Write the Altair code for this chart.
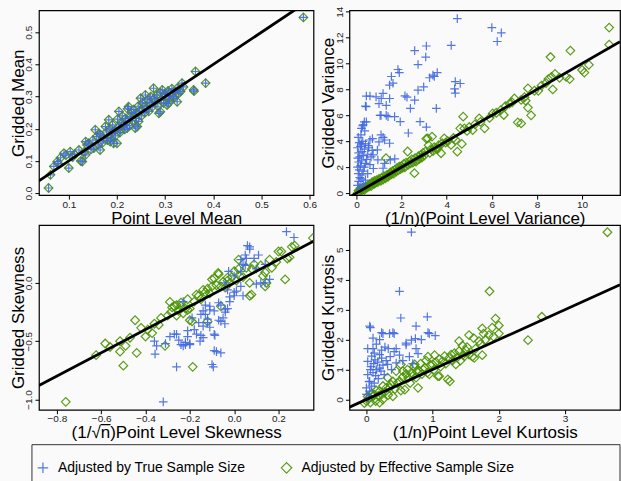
import altair as alt
import pandas as pd

SERIES = ["Adjusted by True Sample Size", "Adjusted by Effective Sample Size"]
BLUE = "#4169E1"
GREEN = "#4A9400"
PLUS = "M-1,0H1M0,-1V1"
FONT = "Liberation Sans"

# Gridded vs point-level mean (identical under both adjustments)
MEAN_PTS = [
    (0.058, 0.016), (0.062, 0.057), (0.069, 0.083), (0.076, 0.098), (0.078, 0.092), (0.083, 0.110),
    (0.090, 0.124), (0.094, 0.118), (0.100, 0.078), (0.103, 0.129), (0.108, 0.112), (0.112, 0.121),
    (0.121, 0.134), (0.125, 0.100), (0.128, 0.098), (0.132, 0.128), (0.135, 0.119), (0.135, 0.160),
    (0.138, 0.150), (0.141, 0.155), (0.146, 0.136), (0.150, 0.165), (0.152, 0.140), (0.155, 0.197),
    (0.158, 0.176), (0.161, 0.150), (0.163, 0.185), (0.165, 0.134), (0.166, 0.181), (0.169, 0.155),
    (0.172, 0.170), (0.176, 0.207), (0.178, 0.190), (0.180, 0.165), (0.183, 0.228), (0.185, 0.200),
    (0.186, 0.160), (0.187, 0.171), (0.189, 0.185), (0.191, 0.212), (0.193, 0.155), (0.195, 0.195),
    (0.197, 0.178), (0.200, 0.155), (0.201, 0.230), (0.203, 0.205), (0.204, 0.254), (0.206, 0.188),
    (0.207, 0.197), (0.209, 0.220), (0.211, 0.240), (0.214, 0.212), (0.216, 0.198), (0.218, 0.232),
    (0.221, 0.223), (0.221, 0.202), (0.222, 0.262), (0.224, 0.269), (0.226, 0.210), (0.228, 0.238),
    (0.230, 0.250), (0.232, 0.225), (0.235, 0.260), (0.238, 0.248), (0.238, 0.202), (0.240, 0.232),
    (0.242, 0.207), (0.244, 0.270), (0.245, 0.223), (0.247, 0.255), (0.249, 0.295), (0.251, 0.240),
    (0.253, 0.280), (0.256, 0.269), (0.258, 0.250), (0.259, 0.305), (0.261, 0.262), (0.264, 0.290),
    (0.266, 0.254), (0.268, 0.282), (0.270, 0.300), (0.273, 0.268), (0.276, 0.326), (0.278, 0.295),
    (0.280, 0.285), (0.283, 0.305), (0.285, 0.270), (0.287, 0.248), (0.290, 0.312), (0.290, 0.253),
    (0.292, 0.290), (0.294, 0.321), (0.297, 0.280), (0.299, 0.308), (0.301, 0.300), (0.304, 0.274),
    (0.306, 0.318), (0.307, 0.279), (0.309, 0.295), (0.311, 0.311), (0.314, 0.325), (0.316, 0.300),
    (0.318, 0.295), (0.321, 0.315), (0.325, 0.326), (0.325, 0.284), (0.328, 0.310), (0.332, 0.316),
    (0.335, 0.342), (0.338, 0.330), (0.359, 0.321), (0.360, 0.317), (0.363, 0.378), (0.384, 0.342),
    (0.587, 0.546),
]

# Gridded variance vs (1/n)(point-level variance)
VAR_TRUE = [
    (0.05, 0.6), (0.10, 0.9), (0.15, 1.2), (0.08, 1.5), (0.20, 1.1), (0.25, 1.4), (0.12, 1.8),
    (0.30, 1.7), (0.05, 2.0), (0.18, 2.1), (0.35, 2.0), (0.10, 2.4), (0.22, 2.5), (0.40, 2.3),
    (0.06, 2.7), (0.15, 2.8), (0.30, 2.9), (0.45, 2.6), (0.10, 3.1), (0.25, 3.2), (0.35, 3.4),
    (0.05, 3.5), (0.18, 3.6), (0.50, 3.0), (0.12, 3.9), (0.28, 4.0), (0.40, 3.8), (0.08, 4.3),
    (0.20, 4.5), (0.55, 3.5), (0.60, 2.2), (0.50, 1.5), (0.65, 2.8), (0.70, 3.3), (0.75, 1.9),
    (0.40, 1.0), (0.30, 0.7), (0.16, 0.4), (0.22, 5.0), (0.37, 4.8), (0.27, 5.2), (0.35, 5.5),
    (0.44, 5.5), (0.30, 5.26), (0.60, 4.1), (0.71, 4.2), (0.53, 3.67), (0.22, 3.8), (0.93, 3.33),
    (0.74, 2.95), (0.95, 2.56), (1.00, 3.95), (1.09, 4.5), (1.18, 4.3), (1.25, 4.1), (1.47, 3.85),
    (1.70, 2.64), (1.50, 2.56), (1.25, 2.3), (1.18, 1.92), (0.44, 7.49), (0.60, 7.49), (0.40, 6.72),
    (0.43, 6.67), (0.87, 7.43), (1.10, 7.3), (1.00, 6.9), (1.18, 7.69), (1.05, 6.0), (1.09, 6.0),
    (1.32, 6.0), (1.32, 6.77), (1.47, 7.3), (1.40, 5.9), (1.69, 5.9), (1.94, 5.51), (2.30, 4.64),
    (2.82, 5.51), (3.10, 5.1), (2.39, 6.54), (2.15, 7.5), (2.24, 7.4), (2.58, 7.18), (2.73, 7.95),
    (2.98, 8.2), (3.54, 6.54), (1.47, 8.33), (1.62, 8.48), (1.55, 9.0), (1.84, 9.54), (1.90, 9.3),
    (2.73, 9.92), (2.58, 11.0), (3.07, 10.5), (3.10, 11.35), (4.20, 11.4), (3.58, 9.3), (3.39, 9.1),
    (3.24, 8.9), (3.45, 9.0), (4.38, 8.6), (4.60, 8.46), (4.35, 8.05), (4.38, 7.72), (4.47, 13.46),
    (6.00, 12.77), (6.42, 12.36), (6.24, 11.7),
]
VAR_EFF = [
    (0.05, 0.0), (0.10, 0.2), (0.15, 0.1), (0.20, 0.3), (0.25, 0.2), (0.30, 0.45), (0.35, 0.25),
    (0.40, 0.5), (0.45, 0.4), (0.50, 0.6), (0.55, 0.5), (0.60, 0.7), (0.65, 0.55), (0.70, 0.85),
    (0.72, 0.77), (0.78, 0.7), (0.80, 0.95), (0.85, 0.8), (0.90, 1.0), (0.95, 0.85), (1.00, 1.1),
    (1.02, 1.02), (1.08, 0.95), (1.12, 1.2), (1.18, 1.05), (1.22, 1.3), (1.28, 1.15), (1.31, 2.69),
    (1.35, 1.4), (1.40, 1.25), (1.46, 1.41), (1.50, 1.6), (1.55, 1.45), (1.60, 1.7), (1.65, 1.5),
    (1.70, 1.8), (1.76, 1.67), (1.80, 1.95), (1.85, 1.75), (1.90, 2.05), (1.95, 1.85), (2.00, 2.1),
    (2.05, 1.95), (2.10, 2.25), (2.15, 2.0), (2.20, 2.35), (2.27, 3.21), (2.30, 2.2), (2.35, 2.45),
    (2.40, 2.3), (2.45, 2.6), (2.50, 2.35), (2.57, 1.54), (2.60, 2.7), (2.64, 2.44), (2.70, 2.55),
    (2.75, 2.85), (2.80, 2.65), (2.86, 2.95), (2.90, 2.75), (2.95, 3.1), (3.00, 2.9), (3.05, 3.2),
    (3.10, 4.2), (3.16, 4.23), (3.20, 3.7), (3.25, 3.1), (3.30, 3.4), (3.35, 4.36), (3.40, 3.25),
    (3.45, 3.55), (3.53, 3.46), (3.60, 3.4), (3.65, 3.7), (3.75, 3.08), (3.80, 3.85), (3.89, 4.23),
    (3.95, 3.9), (4.05, 4.0), (4.19, 3.72), (4.30, 4.25), (4.40, 4.1), (4.47, 3.2), (4.60, 5.0),
    (4.67, 3.8), (4.73, 5.9), (4.78, 5.0), (4.90, 4.8), (5.00, 5.1), (5.15, 4.87), (5.25, 5.3),
    (5.44, 5.77), (5.50, 5.5), (5.68, 5.0), (5.90, 5.8), (6.04, 6.15), (6.20, 6.2), (6.40, 6.4),
    (6.53, 6.03), (6.60, 6.7), (6.78, 6.9), (6.90, 7.0), (7.00, 7.3), (7.15, 5.46), (7.30, 5.38),
    (7.30, 7.2), (7.45, 7.4), (7.50, 7.13), (7.60, 8.08), (7.60, 6.6), (7.74, 6.0), (7.89, 7.9),
    (8.06, 7.9), (8.20, 8.3), (8.40, 8.5), (8.50, 8.8), (8.60, 10.5), (8.64, 8.97), (8.70, 8.0),
    (8.80, 9.2), (9.00, 8.9), (9.29, 8.97), (9.45, 8.8), (9.48, 11.0), (10.00, 9.5), (10.10, 9.3),
    (10.30, 9.9), (11.20, 11.46), (11.20, 12.77),
]

# Gridded skewness vs (1/sqrt(n)) point-level skewness
SKEW_TRUE = [
    (-0.32, -1.02), (-0.26, -0.72), (-0.357, -0.61), (-0.36, -0.50), (-0.35, -0.54), (-0.31, -0.52),
    (-0.29, -0.46), (-0.27, -0.44), (-0.26, -0.44), (-0.25, -0.49), (-0.24, -0.53), (-0.23, -0.54),
    (-0.23, -0.16), (-0.22, -0.51), (-0.22, -0.53), (-0.21, -0.41), (-0.21, -0.46), (-0.20, -0.53),
    (-0.20, -0.52), (-0.19, -0.30), (-0.18, -0.40), (-0.17, -0.44), (-0.16, -0.34), (-0.154, -0.50),
    (-0.15, -0.45), (-0.15, -0.27), (-0.14, -0.47), (-0.14, -0.37), (-0.14, -0.24), (-0.13, -0.27),
    (-0.13, -0.19), (-0.12, -0.31), (-0.12, -0.34), (-0.11, -0.38), (-0.11, -0.23), (-0.11, -0.20),
    (-0.10, -0.70), (-0.094, -0.72), (-0.09, -0.58), (-0.09, -0.44), (-0.09, -0.24), (-0.087, -0.45),
    (-0.08, -0.59), (-0.07, -0.32), (-0.07, -0.17), (-0.06, -0.60), (-0.06, -0.33), (-0.06, -0.19),
    (-0.05, -0.30), (-0.042, -0.35), (-0.04, -0.25), (-0.04, -0.23), (-0.04, 0.0), (-0.03, -0.22),
    (-0.03, -0.06), (-0.025, 0.10), (-0.02, -0.16), (-0.02, -0.12), (0.0, -0.11), (0.0, -0.08),
    (0.0, 0.06), (0.01, -0.07), (0.03, -0.03), (0.03, 0.10), (0.03, 0.20), (0.04, -0.11), (0.04, 0.16),
    (0.05, 0.15), (0.05, 0.24), (0.055, 0.21), (0.06, 0.32), (0.07, 0.29), (0.07, 0.31), (0.09, 0.21),
    (0.10, -0.01), (0.10, 0.12), (0.11, 0.24), (0.12, 0.0), (0.14, 0.16), (0.14, 0.0), (0.16, 0.03),
    (0.236, 0.44), (0.27, 0.39),
]
SKEW_EFF = [
    (-0.76, -1.02), (-0.623, -0.62), (-0.582, -0.52), (-0.56, -0.55), (-0.515, -0.59), (-0.50, -0.71),
    (-0.515, -0.50), (-0.49, -0.54), (-0.47, -0.47), (-0.447, -0.32), (-0.44, -0.60), (-0.42, -0.385),
    (-0.40, -0.46), (-0.39, -0.40), (-0.37, -0.43), (-0.36, -0.35), (-0.34, -0.36), (-0.33, -0.30),
    (-0.312, -0.54), (-0.30, -0.28), (-0.29, -0.163), (-0.285, -0.25), (-0.28, -0.21), (-0.27, -0.20),
    (-0.26, -0.19), (-0.26, -0.28), (-0.25, -0.24), (-0.24, -0.20), (-0.24, -0.17), (-0.23, -0.26),
    (-0.22, -0.22), (-0.21, -0.23), (-0.21, -0.14), (-0.20, -0.22), (-0.20, -0.32), (-0.19, -0.33),
    (-0.187, -0.72), (-0.18, -0.16), (-0.17, -0.10), (-0.16, -0.11), (-0.15, -0.14), (-0.14, -0.06),
    (-0.13, -0.08), (-0.12, -0.33), (-0.12, -0.05), (-0.11, -0.09), (-0.10, -0.03), (-0.10, 0.03),
    (-0.09, 0.04), (-0.08, -0.02), (-0.07, 0.075), (-0.072, 0.086), (-0.06, -0.03), (-0.06, -0.20),
    (-0.05, 0.01), (-0.04, -0.04), (-0.03, 0.045), (-0.03, 0.02), (-0.02, 0.0), (-0.01, 0.05),
    (0.0, 0.10), (0.01, 0.02), (0.02, 0.12), (0.02, 0.20), (0.025, 0.06), (0.04, 0.05), (0.055, 0.13),
    (0.07, 0.0), (0.07, -0.11), (0.078, -0.10), (0.08, 0.12), (0.09, 0.16), (0.12, 0.15), (0.13, 0.06),
    (0.14, -0.03), (0.14, 0.09), (0.146, 0.0), (0.16, 0.20), (0.17, 0.13), (0.19, 0.18), (0.20, 0.27),
    (0.213, 0.27), (0.23, 0.03), (0.24, 0.21), (0.25, 0.22), (0.26, 0.31), (0.273, 0.32), (0.355, 0.385),
]

# Gridded kurtosis vs (1/n) point-level kurtosis
KURT_TRUE = [
    (0.0, 0.39), (0.0, 0.17), (0.02, 0.83), (0.02, 1.27), (0.02, 1.7), (0.03, 0.05), (0.04, 0.6),
    (0.05, 0.28), (0.05, 0.61), (0.05, 2.45), (0.06, 2.4), (0.06, 1.0), (0.07, 1.1), (0.08, 1.45),
    (0.08, 0.45), (0.10, 0.9), (0.10, 1.7), (0.10, 2.05), (0.11, 1.2), (0.12, 0.55), (0.12, 1.55),
    (0.13, 1.32), (0.14, 0.8), (0.15, 1.0), (0.15, 1.85), (0.17, 1.25), (0.18, 0.7), (0.20, 1.05),
    (0.20, 2.0), (0.20, 1.5), (0.22, 0.95), (0.23, 2.23), (0.23, 1.65), (0.23, 1.38), (0.25, 1.15),
    (0.25, 2.2), (0.27, 0.83), (0.28, 1.75), (0.30, 1.3), (0.32, 1.17), (0.33, 1.7), (0.35, 2.2),
    (0.36, 1.43), (0.38, 1.0), (0.40, 2.23), (0.42, 1.6), (0.42, 2.2), (0.45, 1.7), (0.45, 1.22),
    (0.50, 1.48), (0.50, 3.61), (0.52, 2.72), (0.55, 1.3), (0.60, 1.82), (0.60, 1.88), (0.65, 1.43),
    (0.68, 5.58), (0.68, 1.98), (0.70, 1.2), (0.74, 2.03), (0.75, 2.45), (0.75, 1.7), (0.78, 1.53),
    (0.83, 2.0), (0.92, 2.76), (0.93, 2.23), (0.95, 2.2), (1.04, 2.13),
]
KURT_EFF = [
    (-0.03, -0.12), (0.0, -0.05), (0.02, 0.1), (0.045, 0.05), (0.06, -0.1), (0.08, 0.2), (0.10, 0.1),
    (0.12, 0.16), (0.14, -0.05), (0.15, 0.3), (0.18, 0.12), (0.20, -0.1), (0.20, 0.28), (0.23, 0.17),
    (0.25, 0.0), (0.25, 0.45), (0.28, 0.25), (0.30, 0.39), (0.32, 0.73), (0.33, 0.15), (0.35, 0.39),
    (0.37, 0.5), (0.40, 0.11), (0.40, 0.6), (0.43, 0.35), (0.45, 0.95), (0.47, 0.55), (0.50, 0.61),
    (0.52, 1.17), (0.52, 0.3), (0.55, 0.95), (0.55, 0.75), (0.58, 0.33), (0.60, 0.85), (0.62, 1.0),
    (0.63, 0.72), (0.66, 0.55), (0.68, 0.9), (0.70, 0.78), (0.72, 1.1), (0.73, 1.17), (0.75, 0.73),
    (0.76, 0.95), (0.78, 0.39), (0.80, 0.95), (0.82, 1.2), (0.84, 0.85), (0.86, 1.0), (0.88, 1.06),
    (0.90, 1.3), (0.92, 0.9), (0.93, 1.43), (0.95, 0.84), (0.97, 1.15), (1.00, 1.17), (1.02, 1.0),
    (1.03, 1.48), (1.05, 1.25), (1.08, 0.78), (1.10, 0.78), (1.10, 1.35), (1.12, 1.1), (1.15, 1.28),
    (1.18, 1.45), (1.20, 1.2), (1.23, 0.67), (1.25, 1.39), (1.26, 0.61), (1.28, 1.5), (1.30, 1.3),
    (1.33, 1.55), (1.35, 1.17), (1.37, 1.4), (1.40, 1.61), (1.40, 1.95), (1.42, 1.3), (1.45, 1.8),
    (1.46, 1.5), (1.48, 1.44), (1.50, 1.65), (1.52, 1.75), (1.55, 2.15), (1.55, 1.5), (1.60, 1.43),
    (1.62, 2.05), (1.63, 1.39), (1.65, 1.7), (1.70, 1.95), (1.72, 1.85), (1.75, 2.37), (1.75, 1.48),
    (1.77, 2.2), (1.80, 2.0), (1.85, 2.15), (1.86, 3.61), (1.90, 2.4), (1.92, 2.1), (1.95, 2.7),
    (2.00, 2.47), (2.00, 2.2), (2.44, 1.98), (2.65, 2.76), (3.64, 5.58),
]

# Axis ranges and ticks per panel
MEAN_XDOM, MEAN_YDOM = [0.038, 0.608], [-0.006, 0.568]
VAR_XDOM, VAR_YDOM = [-0.31, 11.68], [-0.15, 14.1]
SKEW_XDOM, SKEW_YDOM = [-0.881, 0.358], [-1.088, 0.497]
KURT_XDOM, KURT_YDOM = [-0.256, 3.83], [-0.34, 5.82]

MEAN_XTICKS, MEAN_YTICKS = [0.1, 0.2, 0.3, 0.4, 0.5, 0.6], [0.0, 0.1, 0.2, 0.3, 0.4, 0.5]
VAR_XTICKS, VAR_YTICKS = [0, 2, 4, 6, 8, 10], [0, 2, 4, 6, 8, 10, 12, 14]
SKEW_XTICKS, SKEW_YTICKS = [-0.8, -0.6, -0.4, -0.2, 0.0, 0.2], [-1.0, -0.5, 0.0]
KURT_XTICKS, KURT_YTICKS = [0, 1, 2, 3], [0, 1, 2, 3, 4, 5]

LEGEND = alt.Legend(
    title=None, orient="none", legendX=-3, legendY=451, direction="horizontal",
    labelFont=FONT, labelFontSize=14, labelColor="black", labelOffset=8, labelLimit=400,
    symbolSize=110, symbolStrokeWidth=1.2, columnPadding=33, padding=0,
)


def to_frame(true_pts, eff_pts):
    rows = [{"x": x, "y": y, "adj": SERIES[1]} for x, y in eff_pts]
    rows += [{"x": x, "y": y, "adj": SERIES[0]} for x, y in true_pts]
    return pd.DataFrame(rows)


def panel(df, xdom, ydom, xticks, yticks, xfmt, yfmt, xtitle, ytitle, w, h):
    xaxis = alt.Axis(
        values=xticks, format=xfmt, title=xtitle, domain=False, grid=False,
        tickSize=4, tickColor="black", labelFont=FONT, labelFontSize=10, labelColor="#222",
        labelPadding=0, labelFlush=False, labelOverlap=False,
        titleFont=FONT, titleFontSize=17, titleFontWeight="normal", titleColor="black",
        titleY=28, titleBaseline="alphabetic",
    )
    yaxis = alt.Axis(
        values=yticks, format=yfmt, title=ytitle, domain=False, grid=False,
        tickSize=4, tickColor="black", labelFont=FONT, labelFontSize=10, labelColor="#222",
        labelAngle=270, labelAlign="center", labelBaseline="middle", labelPadding=6,
        labelFlush=False, labelOverlap=False, labelSeparation=0,
        titleFont=FONT, titleFontSize=17, titleFontWeight="normal", titleColor="black",
        titleAngle=270, titleX=-15.5, titleBaseline="alphabetic",
    )
    xs = alt.Scale(domain=xdom, nice=False, zero=False)
    ys = alt.Scale(domain=ydom, nice=False, zero=False)
    pts = alt.Chart(df).mark_point(size=75, strokeWidth=1.2, filled=False, opacity=0.9, clip=True).encode(
        x=alt.X("x:Q", scale=xs, axis=xaxis),
        y=alt.Y("y:Q", scale=ys, axis=yaxis),
        color=alt.Color("adj:N", scale=alt.Scale(domain=SERIES, range=[BLUE, GREEN]), legend=LEGEND),
        shape=alt.Shape("adj:N", scale=alt.Scale(domain=SERIES, range=[PLUS, "diamond"]), legend=LEGEND),
    )
    # identity line y = x across the visible x range
    ident = pd.DataFrame({"x": xdom, "y": xdom})
    line = alt.Chart(ident).mark_line(color="black", strokeWidth=2.8, clip=True).encode(
        x=alt.X("x:Q", scale=xs, axis=xaxis), y=alt.Y("y:Q", scale=ys, axis=yaxis)
    )
    return alt.layer(pts, line).properties(width=w, height=h)


p_mean = panel(to_frame(MEAN_PTS, MEAN_PTS), MEAN_XDOM, MEAN_YDOM, MEAN_XTICKS, MEAN_YTICKS,
               ".1f", ".1f", "Point Level Mean", "Gridded Mean", 275, 185)
p_var = panel(to_frame(VAR_TRUE, VAR_EFF), VAR_XDOM, VAR_YDOM, VAR_XTICKS, VAR_YTICKS,
              "d", "d", "(1/n)(Point Level Variance)", "Gridded Variance", 271, 185)
p_skew = panel(to_frame(SKEW_TRUE, SKEW_EFF), SKEW_XDOM, SKEW_YDOM, SKEW_XTICKS, SKEW_YTICKS,
               ".1f", ".1f", "(1/\u221an\u0305)Point Level Skewness", "Gridded Skewness", 275, 185)
p_kurt = panel(to_frame(KURT_TRUE, KURT_EFF), KURT_XDOM, KURT_YDOM, KURT_XTICKS, KURT_YTICKS,
               "d", "d", "(1/n)Point Level Kurtosis", "Gridded Kurtosis", 271, 185)

# frame around the legend strip
legend_box = alt.Chart(pd.DataFrame({"k": [0]})).mark_rect(
    fillOpacity=0, stroke="#333", strokeWidth=1
).encode(
    x=alt.value(-7), x2=alt.value(582), y=alt.value(5), y2=alt.value(42)
).properties(width=275, height=42, view=alt.ViewBackground(strokeOpacity=0))

chart = alt.concat(
    p_mean, p_var, p_skew, p_kurt, legend_box,
    columns=2, spacing=alt.RowColnumber(row=30, column=36), bounds="flush",
).properties(
    padding={"left": 8, "top": 5, "right": 0, "bottom": 0},
    background="#fafafa",
).configure_view(
    stroke="black", strokeWidth=1.2
).configure_axis(
    labelOverlap=False
)

chart.save("out.html", embed_options={"renderer": "svg", "actions": False})
